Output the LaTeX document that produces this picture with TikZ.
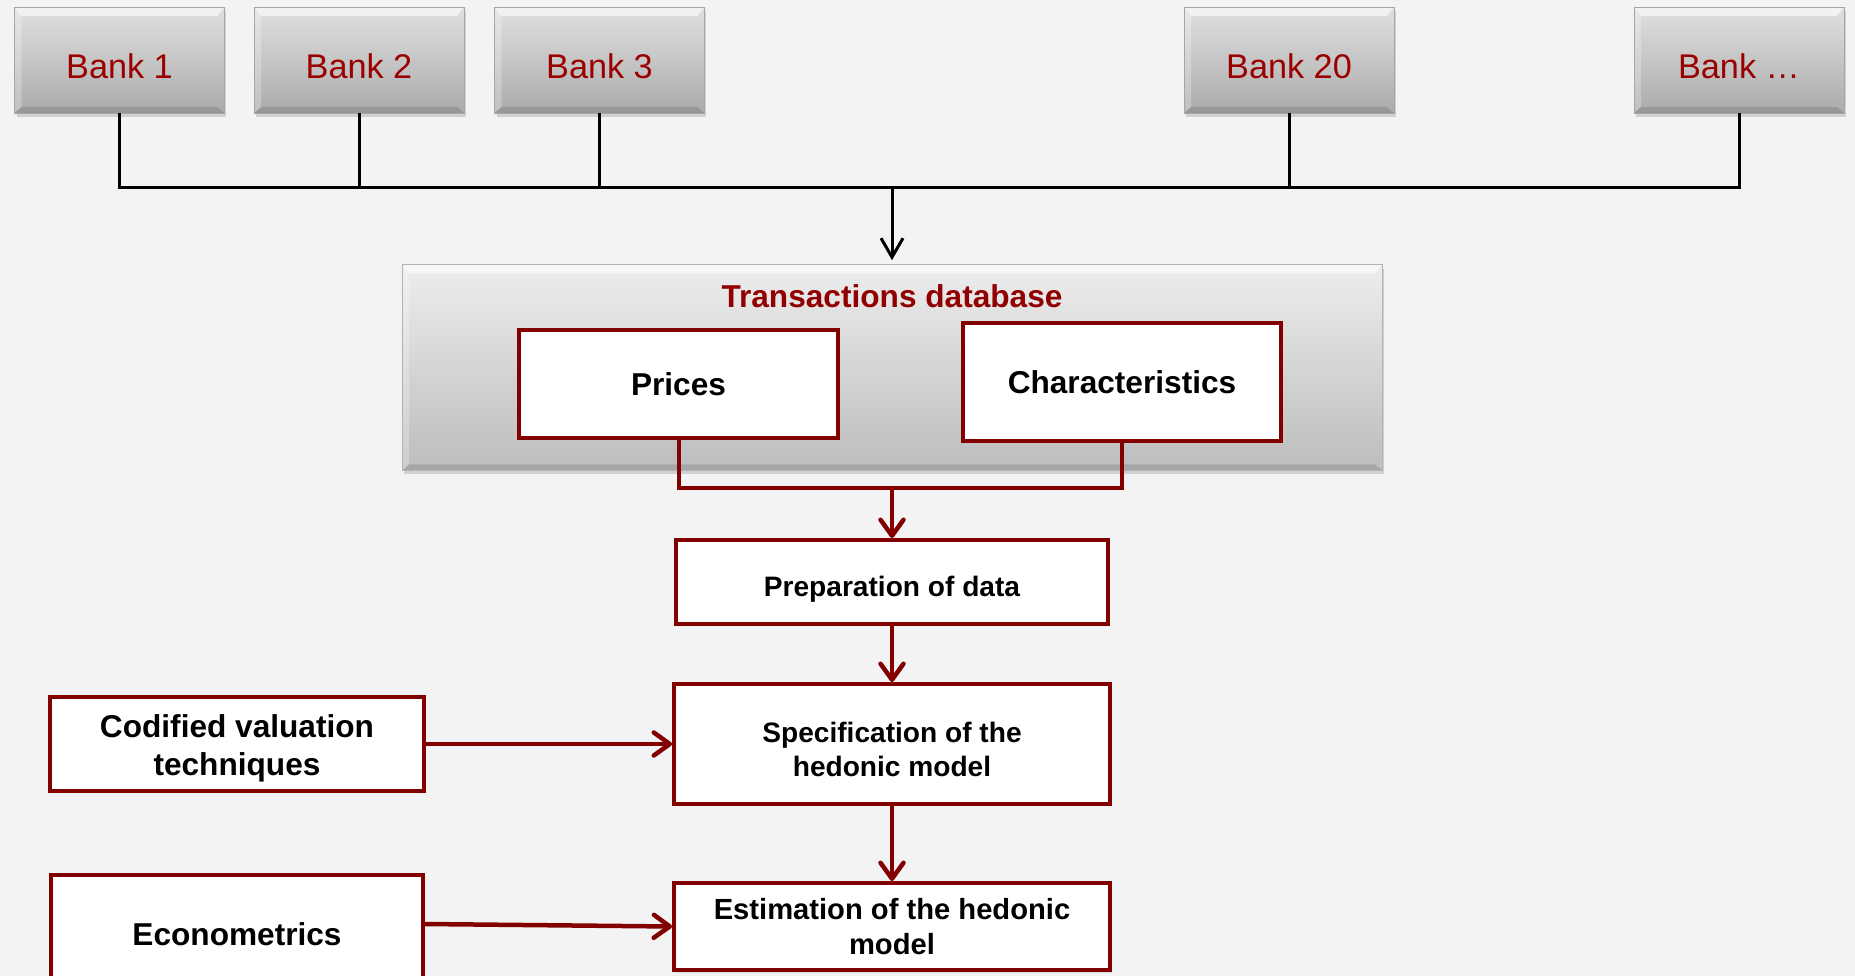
\documentclass[tikz,border=0pt]{standalone}
\usepackage{fontspec}
\setmainfont{Liberation Sans}
\usetikzlibrary{arrows.meta,shadows}
\definecolor{bgcol}{HTML}{F3F3F3}
\definecolor{bankred}{RGB}{155,0,0}
\definecolor{titlered}{RGB}{145,0,0}
\definecolor{boxred}{RGB}{130,0,0}
\tikzset{
  bevel/.style={path picture={
    \fill[white,opacity=0.6] (path picture bounding box.north west) -- (path picture bounding box.north east)
      -- ([xshift=-0.14cm,yshift=-0.18cm]path picture bounding box.north east) -- ([xshift=0.14cm,yshift=-0.18cm]path picture bounding box.north west) -- cycle;
    \fill[black,opacity=0.12] (path picture bounding box.south west) -- (path picture bounding box.south east)
      -- ([xshift=-0.14cm,yshift=0.12cm]path picture bounding box.south east) -- ([xshift=0.14cm,yshift=0.12cm]path picture bounding box.south west) -- cycle;
    \fill[white,opacity=0.25] (path picture bounding box.north west) -- ([xshift=0.14cm,yshift=-0.18cm]path picture bounding box.north west)
      -- ([xshift=0.14cm,yshift=0.12cm]path picture bounding box.south west) -- (path picture bounding box.south west) -- cycle;}},
  bankbox/.style={rectangle, minimum width=4.2cm, minimum height=2.12cm, top color=black!12, bottom color=black!33,
    draw=black!35, line width=0.4pt, text=bankred, font=\fontsize{19.5}{23}\selectfont, text height=0.74cm, text depth=0cm, bevel,
    drop shadow={opacity=0.3, shadow xshift=0.04cm, shadow yshift=-0.08cm}},
  dbbox/.style={rectangle, minimum width=19.6cm, minimum height=4.12cm, top color=black!7, bottom color=black!26,
    draw=black!30, line width=0.4pt, bevel, drop shadow={opacity=0.3, shadow xshift=0.04cm, shadow yshift=-0.08cm}},
  dbtitle/.style={text=titlered, font=\fontsize{18}{21.5}\selectfont\bfseries},
  redbox/.style={rectangle, draw=boxred, line width=0.08cm, fill=white, align=center,
    drop shadow={opacity=0.2, shadow xshift=0.03cm, shadow yshift=-0.05cm}},
  bigtext/.style={font=\fontsize{18}{21.5}\selectfont\bfseries},
  smalltext/.style={font=\fontsize{16}{19}\selectfont\bfseries},
  busline/.style={draw=black, line width=0.06cm},
  busarrow/.style={busline, -{Straight Barb[length=0.38cm,width=0.44cm]}, shorten >=0.08cm},
  redline/.style={draw=boxred, line width=0.08cm},
  redarrow/.style={draw=boxred, line width=0.09cm, -{Straight Barb[length=0.32cm,width=0.46cm,round]}}
}
\newcommand{\lowstrut}[1]{\rule{0pt}{#1}}
\begin{document}
\begin{tikzpicture}[x=0.02cm,y=-0.02cm]
\fill[bgcol] (0,0) rectangle (1855,976);
\useasboundingbox (0,0) rectangle (1855,976);

\node[bankbox] (b1) at (119.5,60) {Bank 1};
\node[bankbox] (b2) at (359,60) {Bank 2};
\node[bankbox] (b3) at (599.5,60) {Bank 3};
\node[bankbox] (b20) at (1289,60) {Bank 20};
\node[bankbox] (bn) at (1739,60) {Bank …};
\coordinate (bus) at (892,188);
\foreach \b in {b1,b2,b3,b20,bn}
\draw[busline] (\b.south) |- (bus);

\node[dbbox] (db) at (892,367.5) {};
\draw[busarrow] (bus) -- (db.north);
\node[dbtitle] (dbt) at (892,296) {Transactions database};
\node[redbox,bigtext,minimum width=6.38cm,minimum height=2.16cm] (prices) at (678.5,384) {Prices};
\node[redbox,bigtext,minimum width=6.36cm,minimum height=2.36cm] (chars) at (1122,382) {Characteristics};

\node[redbox,smalltext,minimum width=8.64cm,minimum height=1.68cm] (prep) at (892,582) {\lowstrut{0.68cm}Preparation of data};
\node[redbox,smalltext,minimum width=8.72cm,minimum height=2.4cm] (spec) at (892,744) {\lowstrut{0.62cm}Specification of the\\hedonic model};
\node[redbox,smalltext,font=\fontsize{16.6}{19.5}\selectfont\bfseries,minimum width=8.72cm,minimum height=1.74cm] (estim) at (892,926.5) {Estimation of the hedonic\\model};
\node[redbox,bigtext,minimum width=7.48cm,minimum height=1.88cm] (codif) at (237,744) {\lowstrut{0.62cm}Codified valuation\\techniques};
\node[redbox,bigtext,minimum width=7.44cm,minimum height=2.36cm] (econ) at (237,934) {Econometrics};

\coordinate (join) at (892,488);
\draw[redline] (prices.south) |- (join);
\draw[redline] (chars.south) |- (join);
\draw[redarrow] (join) -- (prep.north);
\draw[redarrow] (prep.south) -- (spec.north);
\draw[redarrow] (spec.south) -- (estim.north);
\draw[redarrow] (codif.east) -- (spec.west);
\draw[redarrow] ([yshift=0.2cm]econ.east) -- (estim.west);
\end{tikzpicture}
\end{document}
